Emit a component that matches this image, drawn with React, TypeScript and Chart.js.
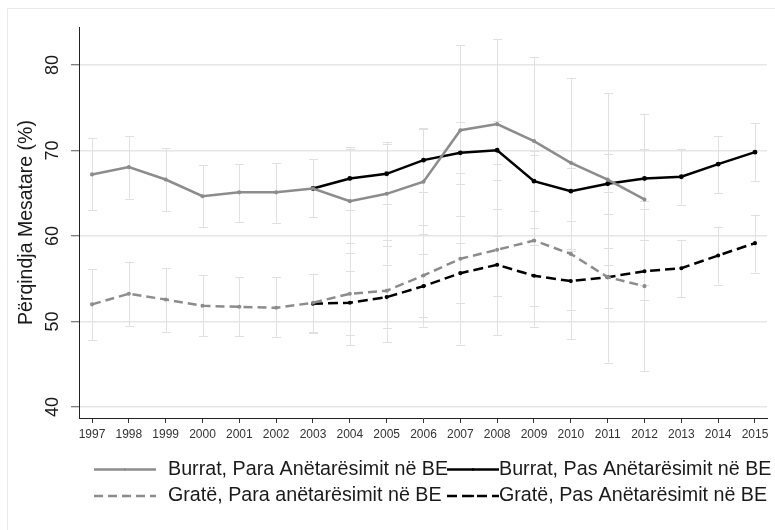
import React, { useEffect, useRef } from 'react';
import { Chart, registerables } from 'chart.js';

Chart.register(...registerables);

// ---- Data ----
const xTickYears = [1997, 1998, 1999, 2000, 2001, 2002, 2003, 2004, 2005, 2006, 2007, 2008, 2009, 2010, 2011, 2012, 2013, 2014, 2015];
const yTickValues = [40, 50, 60, 70, 80];

const preYears = [1997, 1998, 1999, 2000, 2001, 2002, 2003, 2004, 2005, 2006, 2007, 2008, 2009, 2010, 2011, 2012];
const postYears = [2003, 2004, 2005, 2006, 2007, 2008, 2009, 2010, 2011, 2012, 2013, 2014, 2015];

const burratPara = [67.2, 68.05, 66.6, 64.65, 65.1, 65.1, 65.55, 64.07, 64.93, 66.34, 72.37, 73.08, 71.1, 68.56, 66.6, 64.27];
const burratParaLo = [63.0, 64.35, 62.9, 61.1, 61.6, 61.5, 62.2, 58.0, 58.8, 60.25, 62.3, 63.1, 60.95, 58.5, 56.6, 54.3];
const burratParaHi = [71.4, 71.7, 70.3, 68.3, 68.4, 68.5, 69.0, 70.2, 71.0, 72.5, 82.3, 83.05, 80.95, 78.5, 76.75, 74.3];

const burratPas = [65.55, 66.73, 67.27, 68.87, 69.72, 70.03, 66.41, 65.24, 66.1, 66.72, 66.92, 68.4, 69.8];
const burratPasLo = [62.2, 63.06, 63.7, 65.1, 66.1, 66.5, 62.9, 61.7, 62.6, 63.2, 63.6, 65.0, 66.4];
const burratPasHi = [69.0, 70.4, 70.8, 72.6, 73.3, 73.4, 69.9, 68.7, 69.6, 70.2, 70.2, 71.7, 73.2];

const gratePara = [52.0, 53.24, 52.57, 51.83, 51.72, 51.6, 52.19, 53.24, 53.6, 55.38, 57.33, 58.38, 59.47, 57.9, 55.18, 54.13];
const grateParaLo = [47.8, 49.45, 48.8, 48.25, 48.25, 48.2, 48.75, 47.2, 47.6, 49.4, 47.3, 48.4, 49.4, 47.9, 45.2, 44.15];
const grateParaHi = [56.1, 57.0, 56.3, 55.45, 55.2, 55.2, 55.6, 59.2, 59.55, 61.3, 67.4, 68.4, 69.5, 67.9, 65.2, 64.1];

const gratePas = [52.07, 52.19, 52.85, 54.13, 55.65, 56.63, 55.34, 54.72, 55.18, 55.88, 56.23, 57.72, 59.16];
const gratePasLo = [48.7, 48.4, 49.2, 50.5, 52.2, 52.96, 51.8, 51.3, 51.6, 52.5, 52.85, 54.3, 55.7];
const gratePasHi = [55.5, 55.9, 56.6, 57.9, 59.2, 60.05, 58.9, 58.2, 58.6, 59.5, 59.55, 61.1, 62.5];

const seriesLabels = [
  'Burrat, Para Anëtarësimit në BE',
  'Burrat, Pas Anëtarësimit në BE',
  'Gratë, Para anëtarësimit në BE',
  'Gratë, Pas Anëtarësimit në BE',
];
const yTitle = 'Përqindja Mesatare (%)';

const FONT = "'Liberation Sans', Arial, sans-serif";
const GRAY = '#8c8c8c';
const BLACK = '#000000';

const pts = (xs: number[], ys: number[]) => xs.map((x, i) => ({ x, y: ys[i] }));

const errorSets = [
  { years: preYears, lo: burratParaLo, hi: burratParaHi },
  { years: postYears, lo: burratPasLo, hi: burratPasHi },
  { years: preYears, lo: grateParaLo, hi: grateParaHi },
  { years: postYears, lo: gratePasLo, hi: gratePasHi },
];

const legendItems = [
  { label: seriesLabels[0], color: GRAY, dash: [] as number[], row: 0, col: 0 },
  { label: seriesLabels[1], color: BLACK, dash: [] as number[], row: 0, col: 1 },
  { label: seriesLabels[2], color: GRAY, dash: [9, 5], row: 1, col: 0 },
  { label: seriesLabels[3], color: BLACK, dash: [10, 5], row: 1, col: 1 },
];

const framePlugin = {
  id: 'frame',
  beforeDraw(chart: any) {
    const ctx = chart.ctx;
    ctx.save();
    ctx.fillStyle = '#ffffff';
    ctx.fillRect(0, 0, chart.width, chart.height);
    ctx.strokeStyle = '#e9e9e9';
    ctx.lineWidth = 1;
    ctx.beginPath();
    ctx.moveTo(7.5, chart.height);
    ctx.lineTo(7.5, 8.5);
    ctx.lineTo(chart.width, 8.5);
    ctx.stroke();
    ctx.restore();
  },
};

const errorBarPlugin = {
  id: 'errorBars',
  beforeDatasetsDraw(chart: any) {
    const ctx = chart.ctx;
    const xs = chart.scales.x;
    const ys = chart.scales.y;
    ctx.save();
    ctx.strokeStyle = '#e0e0e0';
    ctx.lineWidth = 1;
    errorSets.forEach((s) => {
      s.years.forEach((yr, i) => {
        const x = Math.round(xs.getPixelForValue(yr)) + 0.5;
        const y1 = ys.getPixelForValue(s.lo[i]);
        const y2 = ys.getPixelForValue(s.hi[i]);
        ctx.beginPath();
        ctx.moveTo(x, y1);
        ctx.lineTo(x, y2);
        ctx.moveTo(x - 4.5, Math.round(y1) + 0.5);
        ctx.lineTo(x + 4.5, Math.round(y1) + 0.5);
        ctx.moveTo(x - 4.5, Math.round(y2) + 0.5);
        ctx.lineTo(x + 4.5, Math.round(y2) + 0.5);
        ctx.stroke();
      });
    });
    ctx.restore();
  },
};

const yLabelPlugin = {
  id: 'yLabels',
  afterDraw(chart: any) {
    const ctx = chart.ctx;
    const ys = chart.scales.y;
    ctx.save();
    ctx.fillStyle = '#1a1a1a';
    ctx.font = `18px ${FONT}`;
    ctx.textAlign = 'center';
    ctx.textBaseline = 'middle';
    yTickValues.forEach((v) => {
      const y = ys.getPixelForValue(v);
      ctx.save();
      ctx.translate(53, y);
      ctx.rotate(-Math.PI / 2);
      ctx.fillText(String(v), 0, 0);
      ctx.restore();
    });
    ctx.restore();
  },
};

const legendPlugin = {
  id: 'customLegend',
  afterDraw(chart: any) {
    const ctx = chart.ctx;
    const rowY = [469.5, 496];
    const lineX = [[94, 156], [447, 499]];
    const textX = [168, 499];
    ctx.save();
    legendItems.forEach((it) => {
      const y = rowY[it.row];
      const [x1, x2] = lineX[it.col];
      ctx.strokeStyle = it.color;
      ctx.lineWidth = 2.5;
      ctx.setLineDash(it.dash);
      ctx.beginPath();
      ctx.moveTo(x1, y);
      ctx.lineTo(x2, y);
      ctx.stroke();
      ctx.setLineDash([]);
      ctx.fillStyle = it.color;
      ctx.beginPath();
      ctx.arc((x1 + x2) / 2, y, 1.2, 0, Math.PI * 2);
      ctx.fill();
      ctx.fillStyle = '#1a1a1a';
      ctx.font = `19.7px ${FONT}`;
      ctx.textAlign = 'left';
      ctx.textBaseline = 'middle';
      ctx.fillText(it.label, textX[it.col], y);
    });
    ctx.restore();
  },
};

export default function App() {
  const canvasRef = useRef<HTMLCanvasElement | null>(null);

  useEffect(() => {
    document.body.style.margin = '0';
    const canvas = canvasRef.current;
    if (!canvas) return;
    Chart.defaults.font.family = FONT;

    const chart = new Chart(canvas, {
      type: 'line',
      data: {
        datasets: [
          {
            label: seriesLabels[0],
            data: pts(preYears, burratPara),
            borderColor: GRAY,
            backgroundColor: GRAY,
            borderWidth: 2.5,
            pointRadius: 0.8,
            pointHoverRadius: 0.8,
            tension: 0,
          },
          {
            label: seriesLabels[1],
            data: pts(postYears, burratPas),
            borderColor: BLACK,
            backgroundColor: BLACK,
            borderWidth: 2.5,
            pointRadius: 1.2,
            pointHoverRadius: 1.2,
            tension: 0,
          },
          {
            label: seriesLabels[2],
            data: pts(preYears, gratePara),
            borderColor: GRAY,
            backgroundColor: GRAY,
            borderWidth: 2.5,
            borderDash: [9, 5],
            pointRadius: 0.8,
            pointHoverRadius: 0.8,
            tension: 0,
          },
          {
            label: seriesLabels[3],
            data: pts(postYears, gratePas),
            borderColor: BLACK,
            backgroundColor: BLACK,
            borderWidth: 2.5,
            borderDash: [10, 5],
            pointRadius: 0.8,
            pointHoverRadius: 0.8,
            tension: 0,
          },
        ],
      },
      options: {
        responsive: false,
        animation: false,
        events: [],
        layout: { padding: { left: 0, right: 8, top: 27, bottom: 82 } },
        plugins: {
          legend: { display: false },
          tooltip: { enabled: false },
          title: { display: false },
        },
        scales: {
          x: {
            type: 'linear',
            min: 1996.647,
            max: 2015.326,
            afterBuildTicks: (scale: any) => {
              scale.ticks = xTickYears.map((v) => ({ value: v }));
            },
            afterFit: (scale: any) => {
              scale.height = 30;
            },
            ticks: {
              autoSkip: false,
              maxRotation: 0,
              minRotation: 0,
              padding: 4,
              color: '#333333',
              font: { size: 12, family: FONT },
              callback: (v: any) => String(v),
            },
            grid: {
              display: true,
              drawOnChartArea: false,
              drawTicks: true,
              tickLength: 5,
              tickColor: '#333333',
              tickWidth: 1,
            },
            border: { display: true, color: '#222222', width: 1 },
          },
          y: {
            type: 'linear',
            min: 38.71,
            max: 84.44,
            afterBuildTicks: (scale: any) => {
              scale.ticks = yTickValues.map((v) => ({ value: v }));
            },
            afterFit: (scale: any) => {
              scale.width = 79;
            },
            ticks: { display: false },
            grid: {
              display: true,
              color: '#e6e6e6',
              lineWidth: 1.5,
              drawTicks: true,
              tickLength: 8,
              tickColor: '#555555',
              tickWidth: 1,
            },
            border: { display: true, color: '#222222', width: 1 },
            title: {
              display: true,
              text: yTitle,
              color: '#1a1a1a',
              font: { size: 19.5, family: FONT },
              padding: { top: 14.8, bottom: 0 },
            },
          },
        },
      },
      plugins: [framePlugin, errorBarPlugin, yLabelPlugin, legendPlugin],
    } as any);

    return () => {
      chart.destroy();
    };
  }, []);

  return (
    <div style={{ width: 775, height: 530 }}>
      <canvas ref={canvasRef} width={775} height={530} style={{ display: 'block' }} />
    </div>
  );
}
